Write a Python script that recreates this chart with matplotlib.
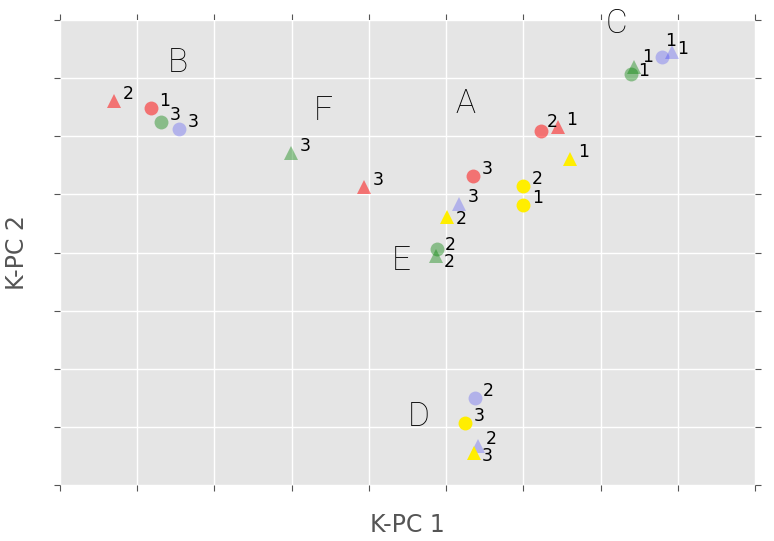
import matplotlib
matplotlib.use("Agg")
import matplotlib.pyplot as plt

# series values: x, y, marker type, point label
red_x = [0.70, 1.18, 6.23, 6.45, 5.35, 3.94]
red_y = [6.61, 6.49, 6.09, 6.16, 5.32, 5.13]
red_m = ['^', 'o', 'o', '^', 'o', '^']
red_l = ['2', '1', '2', '1', '3', '3']

green_x = [1.31, 2.99, 7.43, 7.39, 4.88, 4.87]
green_y = [6.25, 5.71, 7.19, 7.07, 4.06, 3.94]
green_m = ['o', '^', '^', 'o', 'o', '^']
green_l = ['3', '3', '1', '1', '2', '2']

purple_x = [1.54, 7.80, 7.93, 5.17, 5.37, 5.41]
purple_y = [6.13, 7.36, 7.45, 4.83, 1.50, 0.67]
purple_m = ['o', 'o', '^', '^', 'o', '^']
purple_l = ['3', '1', '1', '3', '2', '2']

yellow_x = [6.60, 6.00, 6.00, 5.01, 5.25, 5.36]
yellow_y = [5.61, 5.14, 4.82, 4.61, 1.07, 0.55]
yellow_m = ['^', 'o', 'o', '^', 'o', '^']
yellow_l = ['1', '2', '1', '2', '3', '3']

group_letters = ['A', 'B', 'C', 'D', 'E', 'F']
group_x = [5.25, 1.53, 7.21, 4.65, 4.42, 3.41]
group_y = [6.55, 7.26, 7.93, 1.17, 3.86, 6.44]

# label placement (style): default offset in points, with a few overrides
DEFAULT_OFF = (10, 5)
label_off = {
    ('red', 2): (8, 6.5),
    ('green', 2): (10, 7.2),
    ('green', 3): (9.5, 2.2),
    ('green', 4): (10, 3),
    ('green', 5): (9.5, -4.3),
    ('purple', 1): (5.8, 11.5),
    ('purple', 2): (7.2, 2.2),
    ('yellow', 3): (10, -1.4),
    ('yellow', 5): (9.5, -2.2),
}

series = [
    ('red', red_x, red_y, red_m, red_l, '#ff0000', 0.5),
    ('green', green_x, green_y, green_m, green_l, '#008000', 0.4),
    ('purple', purple_x, purple_y, purple_m, purple_l, '#0000ff', 0.22),
    ('yellow', yellow_x, yellow_y, yellow_m, yellow_l, '#ffee00', 1.0),
]

fig = plt.figure(figsize=(7.74, 5.41), dpi=100)
ax = fig.add_axes([0.0775, 0.1035, 0.898, 0.8595])
ax.set_facecolor('#E5E5E5')
for s in ax.spines.values():
    s.set_visible(False)
ax.set_axisbelow(True)
ax.grid(True, color='white', linewidth=1.0)

for name, xs, ys, ms, ls, c, a in series:
    for i, (x, y, m, l) in enumerate(zip(xs, ys, ms, ls)):
        ax.plot([x], [y], linestyle='none', marker=m, markersize=10,
                color=c, alpha=a, markeredgewidth=0)
        off = label_off.get((name, i), DEFAULT_OFF)
        ax.annotate(l, (x, y), xytext=off, textcoords='offset points',
                    ha='center', va='center', fontsize=12.5, color='black')

for t, x, y in zip(group_letters, group_x, group_y):
    ax.text(x, y, t, ha='center', va='center', fontsize=24,
            family='Roboto', fontweight=200, color='black')

ax.set_xlim(0, 9)
ax.set_ylim(0, 8)
ax.set_xticks(range(0, 10))
ax.set_yticks(range(0, 9))
ax.set_xticklabels([])
ax.set_yticklabels([])
ax.tick_params(direction='out', length=4, width=0.8, color='#555555',
               top=True, right=True)
ax.set_xlabel('K-PC 1', fontsize=17, color='#555555', labelpad=13)
ax.set_ylabel('K-PC 2', fontsize=17, color='#555555', labelpad=15)

fig.savefig('out.png', dpi=100)
